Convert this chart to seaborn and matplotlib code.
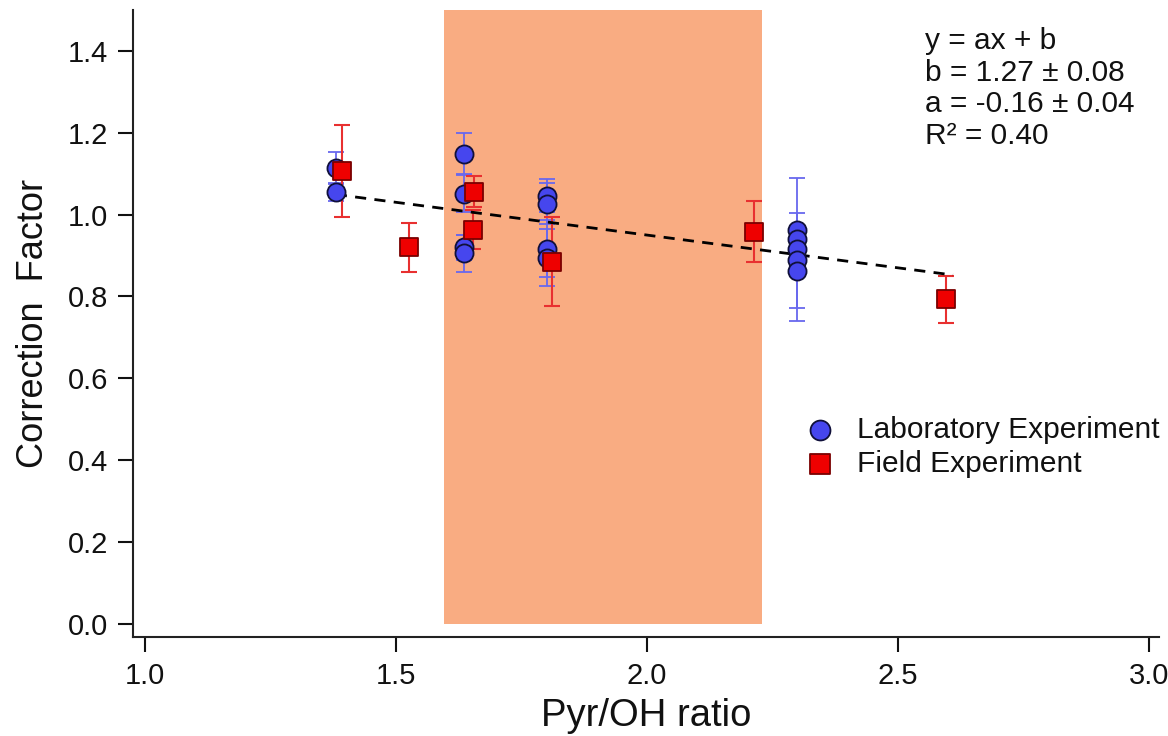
import numpy as np
import pandas as pd
import seaborn as sns
import matplotlib.pyplot as plt

# laboratory experiment (blue circles)
lab_x = [1.38, 1.38, 1.635, 1.635, 1.635, 1.635, 1.80, 1.80, 1.80, 1.80,
         2.30, 2.30, 2.30, 2.30, 2.30]
lab_y = [1.115, 1.054, 1.149, 1.051, 0.920, 0.905, 1.046, 1.027, 0.917, 0.895,
         0.963, 0.941, 0.915, 0.888, 0.863]
lab_err = [0.037, 0.020, 0.050, 0.045, 0.030, 0.045, 0.040, 0.050, 0.070, 0.070,
           0.010, 0.010, 0.175, 0.115, 0.010]

# field experiment (red squares)
field_x = [1.392, 1.526, 1.655, 1.653, 1.811, 2.213, 2.596]
field_y = [1.107, 0.920, 1.056, 0.963, 0.885, 0.958, 0.793]
field_err = [0.113, 0.060, 0.038, 0.048, 0.108, 0.074, 0.058]

# linear fit y = a x + b
fit_a = -0.16
fit_b = 1.27
fit_xrange = [1.38, 2.61]

band = [1.595, 2.23]

lab = pd.DataFrame({"x": lab_x, "y": lab_y, "kind": "Laboratory Experiment"})
field = pd.DataFrame({"x": field_x, "y": field_y, "kind": "Field Experiment"})
data = pd.concat([lab, field], ignore_index=True)

sns.set_style("ticks")
plt.rcParams["font.family"] = ["Liberation Sans", "DejaVu Sans"]
plt.rcParams["text.color"] = "#111111"
plt.rcParams["axes.labelcolor"] = "#111111"
plt.rcParams["xtick.color"] = "#111111"
plt.rcParams["ytick.color"] = "#111111"

fig = plt.figure(figsize=(11.68, 7.36), dpi=100)
ax = fig.add_axes([0.114, 0.1345, 0.878, 0.852])

ax.fill_between(band, 0, 1.5, color="#F9AC82", lw=0, zorder=0)

ax.errorbar(lab_x, lab_y, yerr=lab_err, fmt="none", ecolor="#6868EE",
            elinewidth=1.3, capsize=6, capthick=1.3, zorder=2)
ax.errorbar(field_x, field_y, yerr=field_err, fmt="none", ecolor="#E83030",
            elinewidth=1.5, capsize=6, capthick=1.5, zorder=3)

fx = np.array(fit_xrange)
fit = pd.DataFrame({"x": fx, "y": fit_a * fx + fit_b})
sns.lineplot(data=fit, x="x", y="y", ax=ax, color="black", lw=2,
             linestyle=(0, (4, 3)), zorder=4)

sns.scatterplot(data=data[data.kind == "Laboratory Experiment"], x="x", y="y",
                marker="o", s=170, color="#4646EE", edgecolor="#10103a",
                linewidth=1.3, ax=ax, zorder=5, label="Laboratory Experiment")
sns.scatterplot(data=data[data.kind == "Field Experiment"], x="x", y="y",
                marker="s", s=170, color="#EE0000", edgecolor="#7a0000",
                linewidth=1.3, ax=ax, zorder=6, label="Field Experiment")

ax.set_xlim(0.976, 3.02)
ax.set_ylim(-0.032, 1.5)
ax.set_xticks([1.0, 1.5, 2.0, 2.5, 3.0])
ax.set_yticks(np.arange(0, 1.41, 0.2))
ax.xaxis.set_major_formatter(plt.FormatStrFormatter("%.1f"))
ax.yaxis.set_major_formatter(plt.FormatStrFormatter("%.1f"))
ax.tick_params(labelsize=21, width=1.5, length=11, pad=7)
sns.despine(ax=ax)
for s in ["left", "bottom"]:
    ax.spines[s].set_linewidth(1.5)
    ax.spines[s].set_color("#222222")

ax.set_xlabel("Pyr/OH ratio", fontsize=27.5, labelpad=6)
ax.set_ylabel("Correction  Factor", fontsize=26, labelpad=12)

ax.text(925 / 1168, 1 - 27 / 736,
        "y = ax + b\nb = 1.27 \u00b1 0.08\na = -0.16 \u00b1 0.04\nR\u00b2 = 0.40",
        transform=fig.transFigure, fontsize=21.5, va="top", ha="left",
        linespacing=1.16)

ax.legend(loc="upper left", bbox_to_anchor=(805 / 1168, 1 - 416 / 736),
          bbox_transform=fig.transFigure, frameon=False, fontsize=21.5,
          handlelength=1.0, handletextpad=0.75, labelspacing=0.2,
          borderpad=0, borderaxespad=0, markerscale=1.1)

fig.savefig("out.png", dpi=100)
